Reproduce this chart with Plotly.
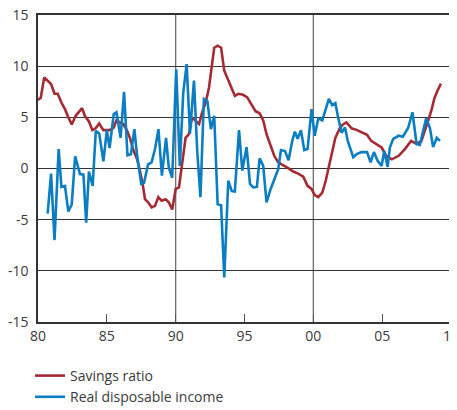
import plotly.graph_objects as go

# Savings ratio (red) - year, value
sav_x = [1980.0, 1980.2, 1980.45, 1980.7, 1980.95, 1981.2, 1981.43, 1981.7, 1981.96, 1982.2,
         1982.45, 1982.74, 1983.0, 1983.2, 1983.4, 1983.7, 1983.95, 1984.2, 1984.45, 1984.75,
         1985.0, 1985.2, 1985.5, 1985.7, 1985.96, 1986.2, 1986.45, 1986.7, 1986.9, 1987.2,
         1987.4, 1987.6, 1987.77, 1988.0, 1988.26, 1988.5, 1988.74, 1988.98, 1989.27, 1989.5,
         1989.75, 1990.0, 1990.24, 1990.48, 1990.72, 1990.96, 1991.2, 1991.45, 1991.7, 1991.93,
         1992.18, 1992.42, 1992.6, 1992.8, 1993.05, 1993.3, 1993.53, 1993.82, 1994.1, 1994.3,
         1994.55, 1994.9, 1995.2, 1995.5, 1995.8, 1996.1, 1996.36, 1996.6, 1996.9, 1997.16,
         1997.45, 1997.8, 1998.17, 1998.54, 1998.9, 1999.27, 1999.58, 1999.87, 2000.1, 2000.36,
         2000.65, 2000.9, 2001.13, 2001.37, 2001.6, 2001.93, 2002.15, 2002.4, 2002.8, 2003.1,
         2003.4, 2003.9, 2004.2, 2004.6, 2004.96, 2005.3, 2005.7, 2006.2, 2006.65, 2007.1,
         2007.5, 2007.85, 2008.1, 2008.35, 2008.6, 2008.8, 2009.05, 2009.27]
sav_y = [6.7, 6.9, 8.9, 8.6, 8.25, 7.3, 7.3, 6.45, 5.8, 5.0,
         4.3, 5.15, 5.6, 5.9, 5.15, 4.6, 3.75, 3.95, 4.4, 3.75,
         3.75, 3.75, 4.0, 4.7, 4.5, 4.35, 3.75, 2.9, 1.9, 0.9,
         -0.2, -1.5, -3.0, -3.3, -3.8, -3.65, -2.8, -3.15, -3.0, -3.3,
         -4.0, -2.0, -1.85, 0.75, 3.0, 3.35, 5.0, 4.65, 4.35, 5.5,
         6.45, 7.9, 9.55, 11.8, 12.0, 11.8, 9.55, 8.6, 7.6, 7.1,
         7.3, 7.2, 6.95, 6.3, 5.6, 5.4, 4.7, 3.35, 2.2, 1.24,
         0.6, 0.36, 0.04, -0.3, -0.5, -0.8, -1.7, -2.0, -2.6, -2.8,
         -2.35, -1.2, 0.1, 1.6, 3.0, 3.95, 4.3, 4.5, 3.9, 3.8,
         3.6, 3.3, 2.7, 2.4, 2.05, 1.24, 0.9, 1.24, 1.9, 2.7,
         2.4, 2.7, 3.6, 4.7, 5.8, 6.9, 7.7, 8.3]

# Real disposable income (blue)
inc_x = [1980.7, 1980.95, 1981.2, 1981.5, 1981.7, 1981.96, 1982.2, 1982.45, 1982.7, 1983.05,
         1983.3, 1983.5, 1983.7, 1983.97, 1984.2, 1984.45, 1984.75, 1985.0, 1985.2, 1985.5,
         1985.7, 1986.0, 1986.25, 1986.5, 1986.75, 1987.0, 1987.2, 1987.5, 1987.7, 1988.0,
         1988.25, 1988.5, 1988.75, 1989.0, 1989.3, 1989.5, 1989.75, 1990.04, 1990.3, 1990.55,
         1990.8, 1991.04, 1991.33, 1991.57, 1991.8, 1992.05, 1992.3, 1992.56, 1992.8, 1993.05,
         1993.3, 1993.53, 1993.82, 1994.07, 1994.3, 1994.6, 1994.84, 1995.15, 1995.4, 1995.64,
         1995.9, 1996.1, 1996.36, 1996.6, 1996.9, 1997.2, 1997.45, 1997.65, 1997.94, 1998.2,
         1998.47, 1998.66, 1998.86, 1999.1, 1999.34, 1999.58, 1999.87, 2000.1, 2000.36, 2000.65,
         2000.9, 2001.13, 2001.37, 2001.6, 2001.8, 2002.05, 2002.3, 2002.5, 2002.9, 2003.15,
         2003.5, 2003.9, 2004.16, 2004.4, 2004.67, 2004.96, 2005.15, 2005.4, 2005.56, 2005.8,
         2006.2, 2006.5, 2006.9, 2007.2, 2007.5, 2007.74, 2007.98, 2008.2, 2008.47, 2008.7,
         2008.97, 2009.2]
inc_y = [-4.4, -0.5, -7.0, 1.9, -1.8, -1.7, -4.2, -3.5, 1.2, -0.55,
         -0.6, -5.3, -0.3, -1.7, 3.7, 3.4, 0.7, 3.75, 2.0, 5.3,
         5.5, 3.0, 7.5, 1.3, 1.4, 3.85, 1.24, -1.5, -1.4, 0.4,
         0.6, 1.9, 3.85, -0.7, 3.0, 0.1, -0.9, 9.7, 0.26, 7.4,
         10.2, 3.4, 8.6, 1.6, -2.8, 6.8, 6.6, 3.85, 5.15, -3.5,
         -3.6, -10.65, -1.2, -2.2, -2.25, 3.75, -0.2, 2.1, -1.5, -1.85,
         -1.8, 1.0, 0.26, -3.3, -2.0, -0.9, -0.06, 1.8, 1.7, 0.8,
         2.7, 3.6, 2.9, 3.75, 1.8, 1.9, 5.8, 3.2, 4.9, 4.7,
         5.8, 6.8, 6.2, 6.4, 5.0, 3.5, 4.0, 2.7, 1.1, 1.4,
         1.6, 1.6, 0.6, 1.6, 0.75, 0.26, 1.7, 0.16, 2.05, 2.9,
         3.2, 3.1, 4.0, 5.5, 2.4, 2.3, 3.7, 4.9, 3.95, 2.1,
         3.0, 2.7]

x_tickvals = [1980, 1985, 1990, 1995, 2000, 2005, 2010]
x_ticktext = ["80", "85", "90", "95", "00", "05", "10"]
y_tickvals = [-15, -10, -5, 0, 5, 10, 15]
y_ticktext = ["-15", "-10", "-5", "0", "5", "10", "15"]

RED = "#a52a33"
BLUE = "#0a7dc3"
FONT = "Open Sans"

W, H = 449, 402  # page body has an 8px margin

fig = go.Figure()
fig.add_trace(go.Scatter(x=sav_x, y=sav_y, mode="lines", name="Savings ratio",
                         line=dict(color=RED, width=2.6)))
fig.add_trace(go.Scatter(x=inc_x, y=inc_y, mode="lines", name="Real disposable income",
                         line=dict(color=BLUE, width=2.6)))

for xv in (1990, 2000):
    fig.add_shape(type="line", xref="x", yref="paper", x0=xv, x1=xv, y0=0, y1=1,
                  line=dict(color="#6e6e6e", width=1.3), layer="below")

fig.update_layout(
    width=W, height=H,
    margin=dict(l=30, r=6, t=7, b=88, autoexpand=False),
    paper_bgcolor="white", plot_bgcolor="white",
    font=dict(family=FONT, size=14, color="#3a3a3a"),
    showlegend=True,
    legend=dict(xref="container", yref="container", x=22/W, xanchor="left",
                y=1 - 352/H, yanchor="top",
                orientation="v", font=dict(size=14, color="#3a3a3a"),
                tracegroupgap=0, itemwidth=30, bgcolor="rgba(0,0,0,0)"),
    xaxis=dict(range=[1980, 2010], tickvals=x_tickvals, ticktext=x_ticktext,
               showgrid=False, zeroline=False, showline=True, linecolor="#333333",
               linewidth=1.5, mirror=True, ticks="inside", ticklen=8,
               tickcolor="#555555", tickwidth=1.3, tickfont=dict(size=14),
               automargin=False, ticklabeloverflow="allow"),
    yaxis=dict(range=[-15, 15], tickvals=y_tickvals, ticktext=y_ticktext, showgrid=True,
               gridcolor="#333333", gridwidth=1.3, zeroline=False, showline=True,
               linecolor="#333333", linewidth=1.5, mirror=True, ticks="",
               tickfont=dict(size=14), ticklabelstandoff=5, automargin=False,
               ticklabeloverflow="allow"),
)

fig.write_html("out.html")
